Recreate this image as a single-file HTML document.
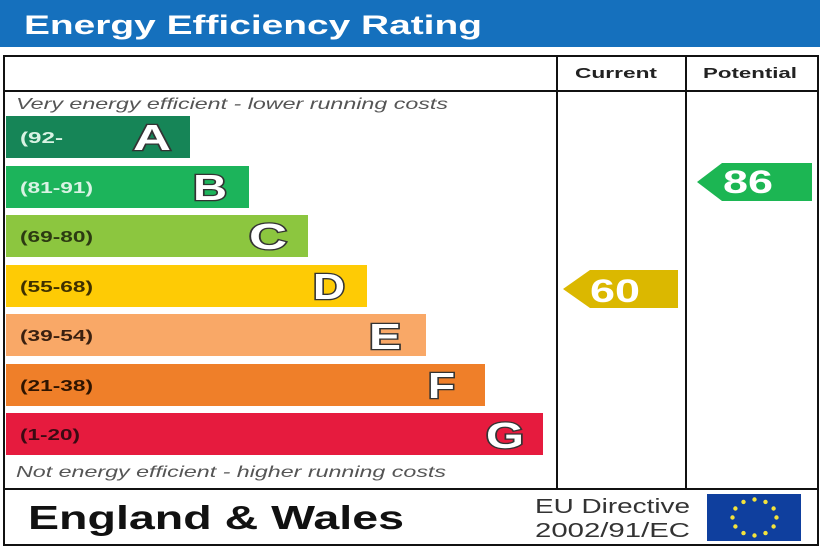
<!DOCTYPE html>
<html><head><meta charset="utf-8"><style>
html,body{margin:0;padding:0;background:#fff;}
svg{display:block;}
</style></head><body>
<svg width="820" height="547" viewBox="0 0 820 547" xmlns="http://www.w3.org/2000/svg" font-family="Liberation Sans, Arial, sans-serif">
<rect x="0" y="0" width="820" height="47" fill="#1570bd"/>
<text x="24" y="34" font-size="27" font-weight="bold" fill="#fff" textLength="458" lengthAdjust="spacingAndGlyphs">Energy Efficiency Rating</text>
<!-- frame -->
<rect x="4" y="56" width="814" height="489" fill="none" stroke="#111" stroke-width="2"/>
<line x1="4" y1="91" x2="818" y2="91" stroke="#111" stroke-width="2"/>
<line x1="4" y1="489" x2="818" y2="489" stroke="#111" stroke-width="2"/>
<line x1="557" y1="56" x2="557" y2="489" stroke="#111" stroke-width="2"/>
<line x1="686" y1="56" x2="686" y2="489" stroke="#111" stroke-width="2"/>
<text x="575" y="78" font-size="15" font-weight="bold" fill="#222" textLength="82" lengthAdjust="spacingAndGlyphs">Current</text>
<text x="703" y="78" font-size="15" font-weight="bold" fill="#222" textLength="94" lengthAdjust="spacingAndGlyphs">Potential</text>
<text x="16" y="109" font-size="16" font-style="italic" fill="#555" textLength="432" lengthAdjust="spacingAndGlyphs">Very energy efficient - lower running costs</text>
<text x="16" y="477" font-size="16" font-style="italic" fill="#555" textLength="430" lengthAdjust="spacingAndGlyphs">Not energy efficient - higher running costs</text>
<!-- bars -->
<g font-weight="bold">
<rect x="6" y="116" width="184" height="42" fill="#168557"/>
<text x="20" y="143" font-size="16" fill="#d9f3e4" textLength="43" lengthAdjust="spacingAndGlyphs">(92-</text>
<text x="133" y="150" font-size="36" fill="#fff" stroke="#333" stroke-width="2.6" paint-order="stroke" textLength="38" lengthAdjust="spacingAndGlyphs">A</text>
<rect x="6" y="166" width="243" height="42" fill="#1cb45b"/>
<text x="20" y="193" font-size="16" fill="#d9f3e4" textLength="73" lengthAdjust="spacingAndGlyphs">(81-91)</text>
<text x="193" y="200" font-size="36" fill="#fff" stroke="#333" stroke-width="2.6" paint-order="stroke" textLength="34" lengthAdjust="spacingAndGlyphs">B</text>
<rect x="6" y="215" width="302" height="42" fill="#8cc63f"/>
<text x="20" y="242" font-size="16" fill="#2c3a12" textLength="73" lengthAdjust="spacingAndGlyphs">(69-80)</text>
<text x="249" y="249" font-size="36" fill="#fff" stroke="#333" stroke-width="2.6" paint-order="stroke" textLength="38" lengthAdjust="spacingAndGlyphs">C</text>
<rect x="6" y="265" width="361" height="42" fill="#fecb05"/>
<text x="20" y="292" font-size="16" fill="#3e3000" textLength="73" lengthAdjust="spacingAndGlyphs">(55-68)</text>
<text x="313" y="299" font-size="36" fill="#fff" stroke="#333" stroke-width="2.6" paint-order="stroke" textLength="32" lengthAdjust="spacingAndGlyphs">D</text>
<rect x="6" y="314" width="420" height="42" fill="#f9a867"/>
<text x="20" y="341" font-size="16" fill="#3a2010" textLength="73" lengthAdjust="spacingAndGlyphs">(39-54)</text>
<text x="369" y="349" font-size="36" fill="#fff" stroke="#333" stroke-width="2.6" paint-order="stroke" textLength="32" lengthAdjust="spacingAndGlyphs">E</text>
<rect x="6" y="364" width="479" height="42" fill="#ef7f29"/>
<text x="20" y="391" font-size="16" fill="#2e1400" textLength="73" lengthAdjust="spacingAndGlyphs">(21-38)</text>
<text x="428" y="398" font-size="36" fill="#fff" stroke="#333" stroke-width="2.6" paint-order="stroke" textLength="27" lengthAdjust="spacingAndGlyphs">F</text>
<rect x="6" y="413" width="537" height="42" fill="#e61b3e"/>
<text x="20" y="440" font-size="16" fill="#3a0a12" textLength="60" lengthAdjust="spacingAndGlyphs">(1-20)</text>
<text x="486" y="448" font-size="36" fill="#fff" stroke="#333" stroke-width="2.6" paint-order="stroke" textLength="38" lengthAdjust="spacingAndGlyphs">G</text>
</g>
<!-- arrows -->
<polygon points="563,289 590,270 678,270 678,308 590,308" fill="#dbb800"/>
<text x="590" y="302" font-size="32" font-weight="bold" fill="#fff" textLength="50" lengthAdjust="spacingAndGlyphs">60</text>
<polygon points="697,182 722,163 812,163 812,201 722,201" fill="#1cb653"/>
<text x="723" y="193" font-size="32" font-weight="bold" fill="#fff" textLength="50" lengthAdjust="spacingAndGlyphs">86</text>
<!-- footer -->
<text x="28" y="529" font-size="33" font-weight="bold" fill="#111" textLength="376" lengthAdjust="spacingAndGlyphs">England &amp; Wales</text>
<text x="535" y="513" font-size="20" fill="#333" textLength="155" lengthAdjust="spacingAndGlyphs">EU Directive</text>
<text x="535" y="537" font-size="20" fill="#333" textLength="155" lengthAdjust="spacingAndGlyphs">2002/91/EC</text>
<rect x="707" y="494" width="94" height="47" fill="#0f3f9e"/>
<g fill="#f3e33c">
<circle cx="754.5" cy="499.5" r="2.2"/>
<circle cx="765.5" cy="501.9" r="2.2"/>
<circle cx="773.6" cy="508.5" r="2.2"/>
<circle cx="776.5" cy="517.5" r="2.2"/>
<circle cx="773.6" cy="526.5" r="2.2"/>
<circle cx="765.5" cy="533.1" r="2.2"/>
<circle cx="754.5" cy="535.5" r="2.2"/>
<circle cx="743.5" cy="533.1" r="2.2"/>
<circle cx="735.4" cy="526.5" r="2.2"/>
<circle cx="732.5" cy="517.5" r="2.2"/>
<circle cx="735.4" cy="508.5" r="2.2"/>
<circle cx="743.5" cy="501.9" r="2.2"/>
</g>
</svg>
</body></html>
